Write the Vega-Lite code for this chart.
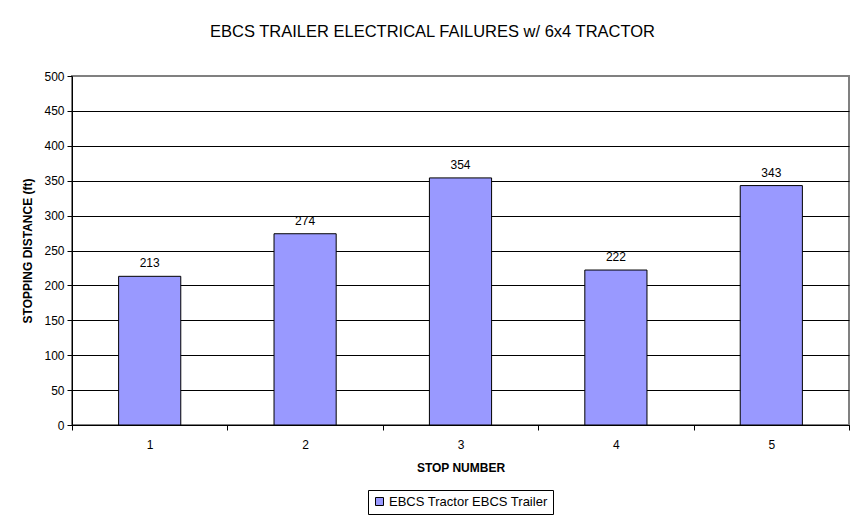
{
  "$schema": "https://vega.github.io/schema/vega-lite/v6.json",
  "autosize": {"type": "none"},
  "width": 777,
  "height": 349,
  "padding": {"left": 72, "top": 76, "right": 15, "bottom": 98},
  "background": "white",
  "title": {
    "text": "EBCS TRAILER ELECTRICAL FAILURES w/ 6x4 TRACTOR",
    "font": "Liberation Sans",
    "fontSize": 16.5,
    "fontWeight": "normal",
    "color": "black",
    "anchor": "middle",
    "dx": -28,
    "offset": 30
  },
  "config": {
    "view": {"stroke": "#808080", "strokeWidth": 2},
    "font": "Liberation Sans",
    "axis": {
      "labelFont": "Liberation Sans",
      "labelFontSize": 12,
      "labelColor": "black",
      "titleFont": "Liberation Sans",
      "titleFontSize": 12,
      "titleFontWeight": "bold",
      "titleColor": "black",
      "domainColor": "black",
      "tickColor": "black",
      "tickSize": 5
    }
  },
  "data": {
    "values": [
      {"stop": "1", "distance": 213, "series": "EBCS Tractor EBCS Trailer"},
      {"stop": "2", "distance": 274, "series": "EBCS Tractor EBCS Trailer"},
      {"stop": "3", "distance": 354, "series": "EBCS Tractor EBCS Trailer"},
      {"stop": "4", "distance": 222, "series": "EBCS Tractor EBCS Trailer"},
      {"stop": "5", "distance": 343, "series": "EBCS Tractor EBCS Trailer"}
    ]
  },
  "encoding": {
    "x": {
      "field": "stop",
      "type": "nominal",
      "scale": {"paddingInner": 0, "paddingOuter": 0},
      "axis": {
        "title": "STOP NUMBER",
        "labelAngle": 0,
        "tickBand": "extent",
        "labelPadding": 9,
        "titlePadding": 12,
        "grid": false
      }
    },
    "y": {
      "field": "distance",
      "type": "quantitative",
      "scale": {"domain": [0, 500], "nice": false},
      "axis": {
        "title": "STOPPING DISTANCE (ft)",
        "values": [0, 50, 100, 150, 200, 250, 300, 350, 400, 450, 500],
        "grid": true,
        "gridColor": {"condition": {"test": "datum.value === 500", "value": "#808080"}, "value": "black"},
        "gridOpacity": 1,
        "gridWidth": 1,
        "labelPadding": 3,
        "titlePadding": 9
      }
    }
  },
  "layer": [
    {
      "mark": {"type": "bar", "width": {"band": 0.4}, "stroke": "black", "strokeWidth": 1},
      "encoding": {
        "color": {
          "field": "series",
          "type": "nominal",
          "scale": {"range": ["#9999FF"]},
          "legend": {
            "title": null,
            "orient": "none",
            "legendX": 296,
            "legendY": 414,
            "direction": "horizontal",
            "symbolType": "square",
            "symbolSize": 64,
            "symbolStrokeColor": "black",
            "symbolStrokeWidth": 1,
            "symbolFillColor": "#9999FF",
            "labelFont": "Liberation Sans",
            "labelFontSize": 13,
            "labelColor": "black",
            "labelOffset": 3,
            "strokeColor": "black",
            "padding": 5
          }
        }
      }
    },
    {
      "mark": {"type": "text", "dy": -6, "baseline": "bottom", "fontSize": 12, "font": "Liberation Sans", "color": "black"},
      "encoding": {"text": {"field": "distance", "type": "quantitative"}}
    }
  ]
}
